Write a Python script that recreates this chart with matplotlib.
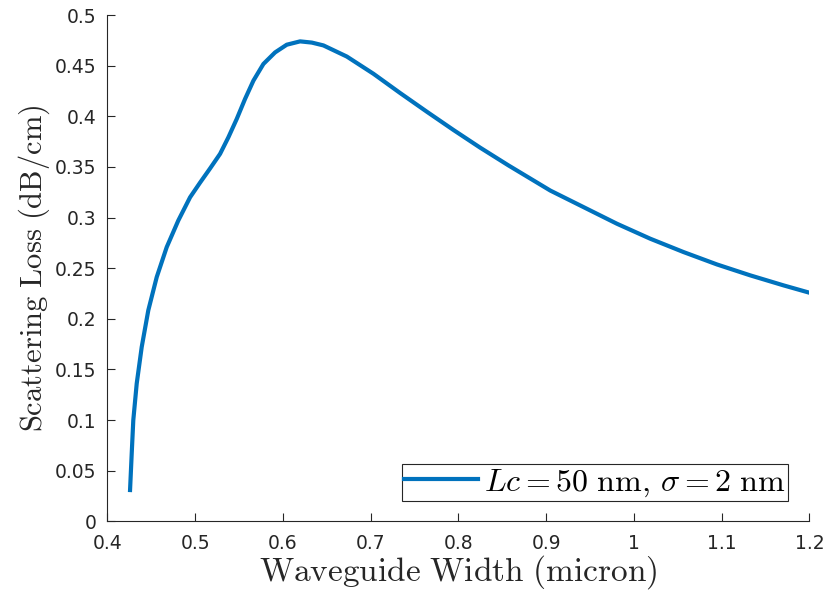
import numpy as np
import matplotlib
matplotlib.use('Agg')
import matplotlib.pyplot as plt

# ============================== Data ==========================================
width = [0.4258, 0.4277, 0.4295, 0.4334, 0.4391, 0.4466, 0.4562, 0.4676, 0.4808,
         0.4942, 0.5056, 0.5170, 0.5284, 0.5379, 0.5474, 0.5569, 0.5664, 0.5778,
         0.5911, 0.6044, 0.6196, 0.6330, 0.6462, 0.6729, 0.7032, 0.7336, 0.7641,
         0.7944, 0.8249, 0.8571, 0.9047, 0.9427, 0.9807, 1.0187, 1.0567, 1.0947,
         1.1327, 1.1707, 1.2000]
loss = [0.0309, 0.0671, 0.0999, 0.1361, 0.1722, 0.2084, 0.2412, 0.2708, 0.2971,
        0.3200, 0.3345, 0.3485, 0.3629, 0.3793, 0.3974, 0.4172, 0.4352, 0.4517,
        0.4631, 0.4707, 0.4740, 0.4728, 0.4700, 0.4590, 0.4420, 0.4230, 0.4045,
        0.3865, 0.3690, 0.3515, 0.3267, 0.3103, 0.2939, 0.2791, 0.2659, 0.2537,
        0.2429, 0.2330, 0.2258]

x_ticks = [0.4, 0.5, 0.6, 0.7, 0.8, 0.9, 1.0, 1.1, 1.2]
x_tick_labels = ['0.4', '0.5', '0.6', '0.7', '0.8', '0.9', '1', '1.1', '1.2']
y_ticks = [0, 0.05, 0.1, 0.15, 0.2, 0.25, 0.3, 0.35, 0.4, 0.45, 0.5]
y_tick_labels = ['0', '0.05', '0.1', '0.15', '0.2', '0.25', '0.3', '0.35', '0.4', '0.45', '0.5']

# ============================== Style =========================================
plt.rcParams['mathtext.fontset'] = 'cm'
plt.rcParams['font.family'] = ['DejaVu Sans']
axis_gray = '#262626'

fig = plt.figure(figsize=(8.25, 5.9), dpi=100)
ax = fig.add_axes([0.1302, 0.1164, 0.8508, 0.8581])

ax.plot(width, loss, color='#0072BD', lw=3, solid_joinstyle='round',
        label=r'$Lc = 50\ \mathrm{nm},\, \sigma = 2\ \mathrm{nm}$')

ax.set_xlim(0.4, 1.2)
ax.set_ylim(0, 0.5)
ax.set_xticks(x_ticks)
ax.set_xticklabels(x_tick_labels)
ax.set_yticks(y_ticks)
ax.set_yticklabels(y_tick_labels)

for s in ['top', 'right']:
    ax.spines[s].set_visible(False)
for s in ['left', 'bottom']:
    ax.spines[s].set_color(axis_gray)
    ax.spines[s].set_linewidth(0.8)
ax.tick_params(direction='in', length=6, width=0.8, colors=axis_gray,
               labelsize=13.5)
ax.tick_params(axis='x', pad=9)
ax.tick_params(axis='y', pad=8)

ax.set_xlabel(r'$\mathrm{Waveguide\ Width\ (micron)}$', fontsize=24,
              color=axis_gray, labelpad=0)
ax.set_ylabel(r'$\mathrm{Scattering\ Loss\ (dB/cm)}$', fontsize=22,
              color=axis_gray, labelpad=2)

leg = ax.legend(loc='lower right', bbox_to_anchor=(0.970, 0.040), borderaxespad=0,
                fontsize=23, fancybox=False, framealpha=1, handlelength=2.3,
                handletextpad=0.2, borderpad=0.08)
leg.get_frame().set_edgecolor(axis_gray)
leg.get_frame().set_linewidth(0.8)

plt.savefig('out.png', dpi=100)
